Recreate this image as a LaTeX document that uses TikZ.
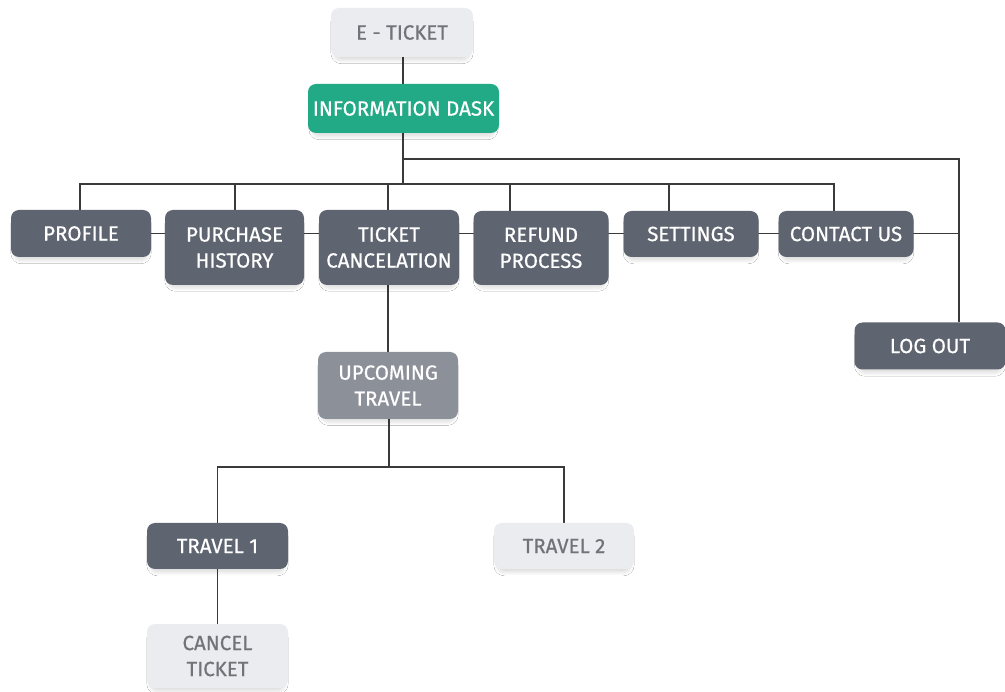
\documentclass[tikz,border=0pt]{standalone}
\usepackage{fontspec}
\setmainfont{Fira Sans}
\newfontfamily\boxfont{Fira Sans}[FakeBold=0.6]
\usetikzlibrary{shadows.blur,calc}
\pgfdeclarelayer{background}
\pgfsetlayers{background,main}
\definecolor{darkbox}{HTML}{5F6570}
\definecolor{greenbox}{HTML}{22AA86}
\definecolor{lightbox}{HTML}{EBECEF}
\definecolor{lighttext}{HTML}{707378}
\definecolor{midbox}{HTML}{8C9099}
\definecolor{wire}{HTML}{3A3A3A}
\tikzset{
  box/.style={rectangle, rounded corners=8pt, align=center, inner sep=0pt,
    font=\boxfont\fontsize{20.5}{26}\selectfont,
    blur shadow={shadow xshift=0pt, shadow yshift=-5pt, shadow scale=0.96,
      shadow blur steps=8, shadow blur radius=3pt, shadow opacity=12}},
  darkb/.style={box, fill=darkbox, text=white},
  greenb/.style={box, fill=greenbox, text=white},
  lightb/.style={box, fill=lightbox, text=lighttext},
  midb/.style={box, fill=midbox, text=white},
  link/.style={draw=wire, line width=1.6pt},
}
\begin{document}
\begin{tikzpicture}[x=1pt,y=-1pt]
  \useasboundingbox (0,0) rectangle (1005,692);

  % top of the tree
  \node[lightb, minimum width=142pt, minimum height=49pt] (eticket) at (402,32.5) {E - TICKET};
  \node[greenb, minimum width=191pt, minimum height=49pt] (info) at (403.5,108.5) {INFORMATION DASK};

  % menu row
  \node[darkb, minimum width=140pt, minimum height=47pt] (profile) at (81,233.5) {PROFILE};
  \node[darkb, minimum width=139pt, minimum height=75pt] (purchase) at (234.5,247.5) {PURCHASE\\HISTORY};
  \node[darkb, minimum width=140pt, minimum height=75pt] (ticket) at (389,247.5) {TICKET\\CANCELATION};
  \node[darkb, minimum width=135pt, minimum height=74pt] (refund) at (541,248) {REFUND\\PROCESS};
  \node[darkb, minimum width=135pt, minimum height=46pt] (settings) at (691,234) {SETTINGS};
  \node[darkb, minimum width=135pt, minimum height=46pt] (contact) at (846,234) {CONTACT US};
  \node[darkb, minimum width=151pt, minimum height=47pt] (logout) at (930,346) {LOG OUT};

  % ticket cancelation branch
  \node[midb, minimum width=140pt, minimum height=67pt] (upcoming) at (388,385.5) {UPCOMING\\TRAVEL};
  \node[darkb, minimum width=141pt, minimum height=46pt] (travel1) at (217.5,546) {TRAVEL 1};
  \node[lightb, minimum width=140pt, minimum height=46pt] (travel2) at (564,546) {TRAVEL 2};
  \node[lightb, minimum width=141pt, minimum height=64pt] (cancel) at (217.5,656) {CANCEL\\TICKET};

  % junction points
  \coordinate (busjoin) at (403,184);
  \coordinate (busL) at (80,184);
  \coordinate (busR) at (834,184);
  \coordinate (dPurchase) at (235,184);
  \coordinate (dTicket) at (388,184);
  \coordinate (dRefund) at (510,184);
  \coordinate (dSettings) at (669,184);
  \coordinate (rjoin) at (959,159);
  \coordinate (fork) at (389,467);

  \begin{pgfonlayer}{background}
    \fill[white] (0,0) rectangle (1005,692);
    \draw[link] (eticket.south -| busjoin) -- (info.north -| busjoin);
    \draw[link] (info.south -| busjoin) -- (busjoin);
    \draw[link] (busjoin |- rjoin) -- (rjoin) -- (rjoin |- logout.north);
    \draw[link] (busL |- profile.north) -- (busL) -- (busR) -- (busR |- contact.north);
    \draw[link] (dPurchase) -- (dPurchase |- purchase.north);
    \draw[link] (dTicket) -- (dTicket |- ticket.north);
    \draw[link] (dRefund) -- (dRefund |- refund.north);
    \draw[link] (dSettings) -- (dSettings |- settings.north);
    \draw[link] (profile.east) -- (profile.east -| rjoin);
    \draw[link] (ticket.south -| dTicket) -- (upcoming.north -| dTicket);
    \draw[link] (upcoming.south -| fork) -- (fork);
    \draw[link] (travel1.north) |- (fork) -| (travel2.north);
    \draw[link] (travel1.south) -- (cancel.north);
  \end{pgfonlayer}
\end{tikzpicture}
\end{document}
